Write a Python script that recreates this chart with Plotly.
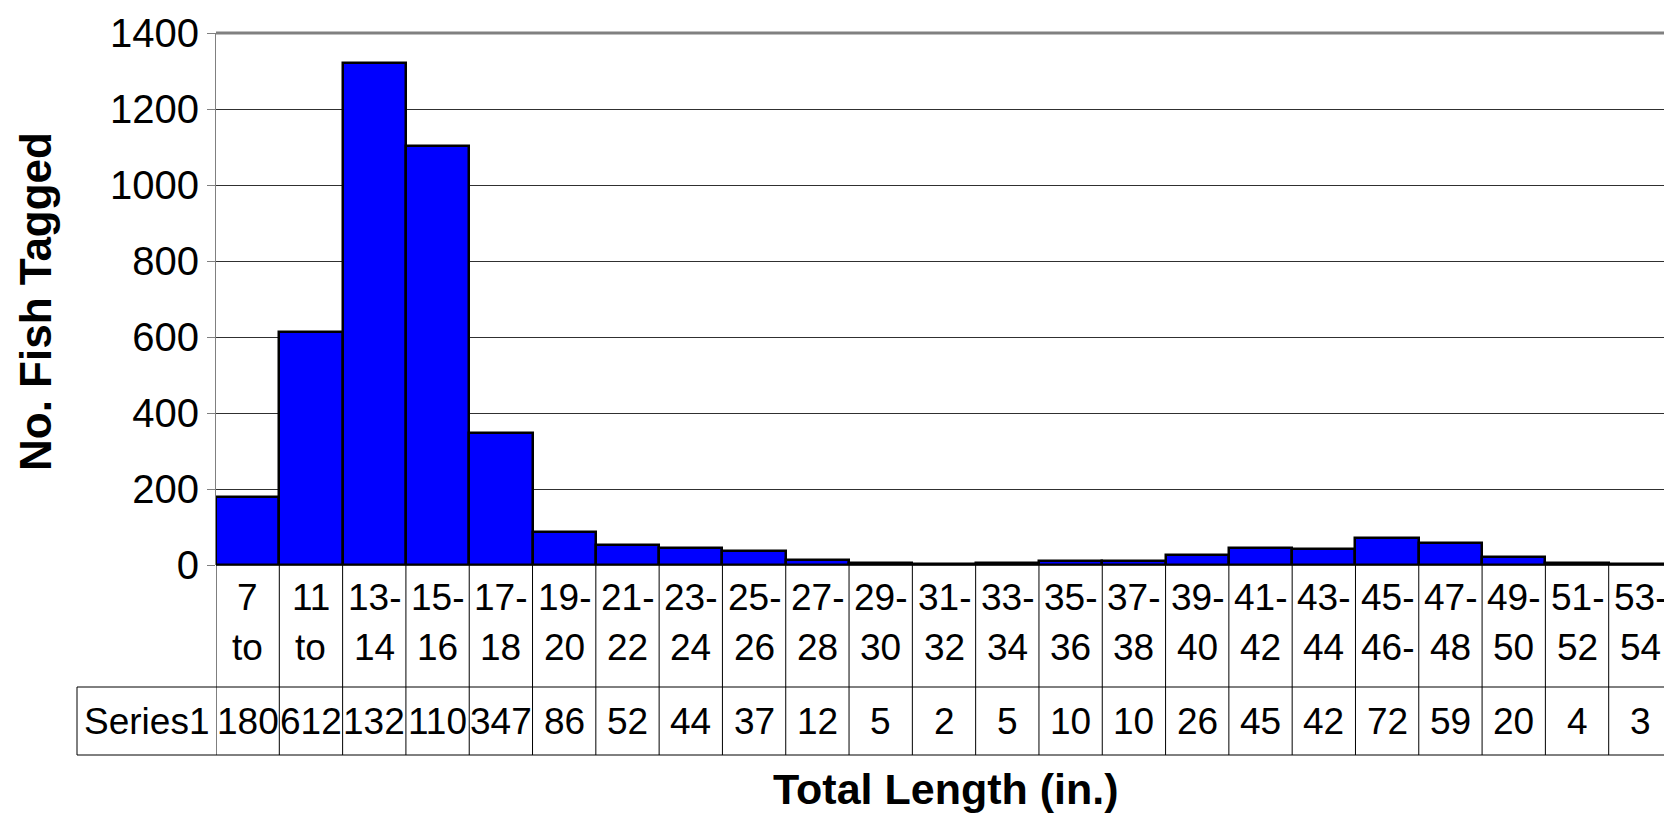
import plotly.graph_objects as go

# ---- data ----
cat_line1 = ["7", "11", "13-", "15-", "17-", "19-", "21-", "23-", "25-", "27-", "29-", "31-",
             "33-", "35-", "37-", "39-", "41-", "43-", "45-", "47-", "49-", "51-", "53-"]
cat_line2 = ["to", "to", "14", "16", "18", "20", "22", "24", "26", "28", "30", "32",
             "34", "36", "38", "40", "42", "44", "46-", "48", "50", "52", "54"]
fish_tagged = [180, 612, 1320, 1103, 347, 86, 52, 44, 37, 12, 5, 2,
               5, 10, 10, 26, 45, 42, 72, 59, 20, 4, 3]
series_name = "Series1"
y_ticks = [0, 200, 400, 600, 800, 1000, 1200, 1400]
x_title = "Total Length (in.)"
y_title = "No. Fish Tagged"

categories = [a + " " + b for a, b in zip(cat_line1, cat_line2)]

# page has an 8px body margin; figure placed at (8, 8)
OFF = 8
W, H = 1672 - OFF, 817 - OFF
# plot area in page pixels
PL, PR, PT, PB = 216, 1672, 33, 565
L, R, T, B = PL - OFF, (1672 - PR), PT - OFF, (817 - PB)
plot_h = PB - PT
plot_w = PR - PL


def py(p):  # page pixel y -> paper y
    return (PB - p) / plot_h


def px(p):  # page pixel x -> paper x
    return (p - PL) / plot_w


FONT = "Liberation Sans, Arial, sans-serif"
TS = 37

fig = go.Figure()
fig.add_trace(go.Bar(
    x=categories, y=fish_tagged, name=series_name,
    marker=dict(color="#0000FF", line=dict(color="black", width=2.5)),
    showlegend=False,
))

shapes = []
annotations = []
n = len(categories)
row1_top, row_mid, row_bot = 565, 687, 755
for i in range(n + 1):
    shapes.append(dict(type="line", xref="x", yref="paper", x0=i - 0.5, x1=i - 0.5,
                       y0=py(row1_top), y1=py(row_bot), line=dict(color="black", width=1)))
for p in (row_mid, row_bot):
    shapes.append(dict(type="line", xref="paper", yref="paper", x0=px(77), x1=1.0,
                       y0=py(p), y1=py(p), line=dict(color="black", width=1)))
shapes.append(dict(type="line", xref="paper", yref="paper", x0=px(77), x1=px(77),
                   y0=py(row_mid), y1=py(row_bot), line=dict(color="black", width=1)))
shapes.append(dict(type="line", xref="paper", yref="paper", x0=0, x1=1, y0=1, y1=1,
                   line=dict(color="#808080", width=3)))

for i, c in enumerate(categories):
    for txt, yy in ((cat_line1[i], 597), (cat_line2[i], 647), (str(fish_tagged[i])[:3], 721)):
        annotations.append(dict(x=c, xref="x", y=py(yy), yref="paper", text=txt,
                                showarrow=False, font=dict(size=TS, color="black", family=FONT),
                                xanchor="center", yanchor="middle"))
annotations.append(dict(x=px(146), xref="paper", y=py(721), yref="paper", text=series_name,
                        showarrow=False, font=dict(size=TS, color="black", family=FONT),
                        xanchor="center", yanchor="middle"))
annotations.append(dict(x=px(946), xref="paper", y=py(789), yref="paper", text=x_title,
                        showarrow=False, font=dict(size=43, color="black", family=FONT, weight="bold"),
                        xanchor="center", yanchor="middle", borderpad=0))
annotations.append(dict(x=px(35), xref="paper", y=py(302), yref="paper", text=y_title,
                        showarrow=False, textangle=-90,
                        font=dict(size=44, color="black", family=FONT, weight="bold"),
                        xanchor="center", yanchor="middle"))

fig.update_layout(
    width=W, height=H,
    margin=dict(l=L, r=R, t=T, b=B),
    paper_bgcolor="white", plot_bgcolor="white",
    bargap=0,
    font=dict(family=FONT, color="black"),
    shapes=shapes, annotations=annotations,
    xaxis=dict(range=[-0.5, n - 0.5], showticklabels=False, showgrid=False, zeroline=False,
               showline=False, ticks=""),
    yaxis=dict(range=[0, 1400], tickvals=y_ticks, showgrid=True, gridcolor="#303030", gridwidth=1,
               zeroline=True, zerolinecolor="#303030", zerolinewidth=1,
               showline=True, linecolor="#808080", linewidth=1,
               ticks="outside", ticklen=8, tickcolor="#808080",
               tickfont=dict(size=40, color="black", family=FONT)),
)

fig.write_html("out.html")
